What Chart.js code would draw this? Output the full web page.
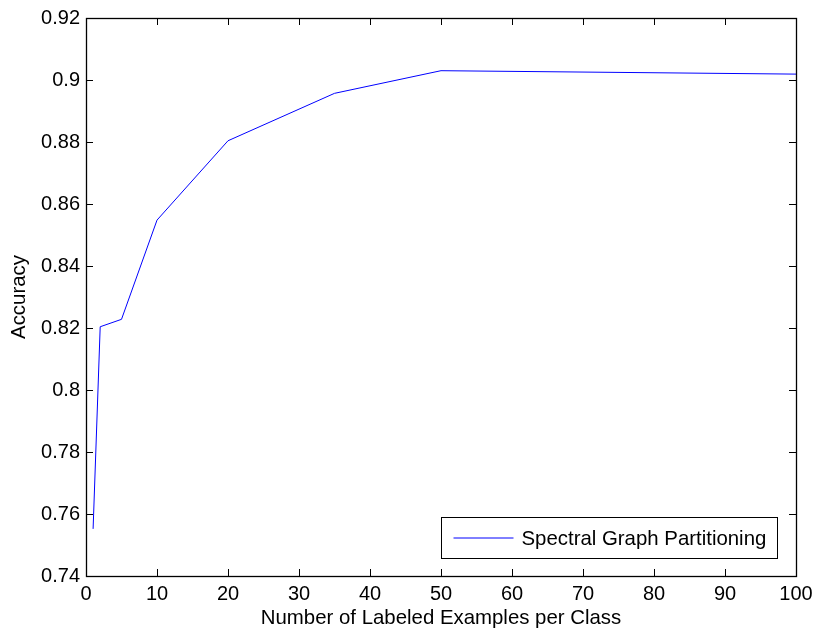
<!DOCTYPE html>
<html>
<head>
<meta charset="utf-8">
<script src="https://cdn.jsdelivr.net/npm/chart.js@4/dist/chart.umd.min.js"></script>
<style>
  html, body { margin: 0; padding: 0; background: #fff; }
  #wrap { width: 814px; height: 631px; }
</style>
</head>
<body>
<div id="wrap"><canvas id="chart"></canvas></div>
<script>
// data
const examplesPerClass = [1, 2, 5, 10, 20, 35, 50, 100];
const accuracy = [0.7552, 0.8204, 0.8228, 0.8548, 0.8804, 0.8957, 0.9030, 0.9019];
const seriesLabel = 'Spectral Graph Partitioning';
const xTitle = 'Number of Labeled Examples per Class';
const yTitle = 'Accuracy';

const FONT = 'Liberation Sans, Arial, Helvetica, sans-serif';

// matlab style box with inward ticks and a legend inside the axes
const boxPlugin = {
    id: 'matlabBox',
    afterDatasetsDraw(chart) {
        const { ctx, chartArea: a, scales } = chart;
        ctx.save();
        ctx.strokeStyle = '#000';
        ctx.lineWidth = 1;
        const tl = 7;
        scales.x.ticks.forEach(t => {
            const px = Math.round(scales.x.getPixelForValue(t.value)) + 0.5;
            ctx.beginPath();
            ctx.moveTo(px, a.bottom); ctx.lineTo(px, a.bottom - tl);
            ctx.moveTo(px, a.top); ctx.lineTo(px, a.top + tl);
            ctx.stroke();
        });
        scales.y.ticks.forEach(t => {
            const py = Math.round(scales.y.getPixelForValue(t.value)) + 0.5;
            ctx.beginPath();
            ctx.moveTo(a.left, py); ctx.lineTo(a.left + tl, py);
            ctx.moveTo(a.right, py); ctx.lineTo(a.right - tl, py);
            ctx.stroke();
        });
        ctx.lineWidth = 1.3;
        ctx.strokeRect(Math.round(a.left) + 0.5, Math.round(a.top) + 0.5,
            Math.round(a.right - a.left), Math.round(a.bottom - a.top));
        ctx.lineWidth = 1;

        // legend box
        const lw = 336, lh = 41;
        const lx = Math.round(a.right - 19 - lw) + 0.5;
        const ly = Math.round(a.bottom - 18 - lh) + 0.5;
        ctx.fillStyle = '#fff';
        ctx.fillRect(lx, ly, lw, lh);
        ctx.strokeRect(lx, ly, lw, lh);
        const ds = chart.data.datasets[0];
        ctx.strokeStyle = ds.borderColor;
        ctx.beginPath();
        ctx.moveTo(lx + 12, ly + lh / 2);
        ctx.lineTo(lx + 72, ly + lh / 2);
        ctx.stroke();
        ctx.fillStyle = '#000';
        ctx.font = '20.4px ' + FONT;
        ctx.textBaseline = 'middle';
        ctx.fillText(ds.label, lx + 80, ly + lh / 2 + 1);
        ctx.restore();
    }
};

const chart = new Chart(document.getElementById('chart'), {
    type: 'line',
    data: {
        datasets: [{
            label: seriesLabel,
            data: examplesPerClass.map((x, i) => ({ x, y: accuracy[i] })),
            borderColor: '#0000ff',
            borderWidth: 1,
            pointRadius: 0,
            tension: 0,
            fill: false
        }]
    },
    options: {
        responsive: true,
        maintainAspectRatio: false,
        animation: false,
        layout: { padding: { left: 0, right: 18, top: 18, bottom: 0 } },
        plugins: {
            legend: { display: false },
            tooltip: { enabled: false }
        },
        scales: {
            x: {
                type: 'linear',
                min: 0,
                max: 100,
                ticks: {
                    stepSize: 10,
                    color: '#000',
                    font: { family: FONT, size: 20 },
                    padding: 6,
                    maxRotation: 0
                },
                grid: { display: false, drawTicks: false },
                border: { display: false },
                title: {
                    display: true,
                    text: xTitle,
                    color: '#000',
                    font: { family: FONT, size: 20.4 },
                    padding: { top: 0, bottom: 0 }
                },
                afterFit(scale) {
                    scale.height = 55;
                    scale.paddingLeft = 0;
                    scale.paddingRight = 0;
                }
            },
            y: {
                type: 'linear',
                min: 0.74,
                max: 0.92,
                ticks: {
                    stepSize: 0.02,
                    color: '#000',
                    font: { family: FONT, size: 20 },
                    padding: 6,
                    callback: v => String(Number(v.toFixed(2)))
                },
                grid: { display: false, drawTicks: false },
                border: { display: false },
                title: {
                    display: true,
                    text: yTitle,
                    color: '#000',
                    font: { family: FONT, size: 20.4 },
                    padding: { top: 7, bottom: 0 }
                },
                afterFit(scale) {
                    scale.width = 86;
                    scale.paddingTop = 0;
                    scale.paddingBottom = 0;
                }
            }
        }
    },
    plugins: [boxPlugin]
});
</script>
</body>
</html>
